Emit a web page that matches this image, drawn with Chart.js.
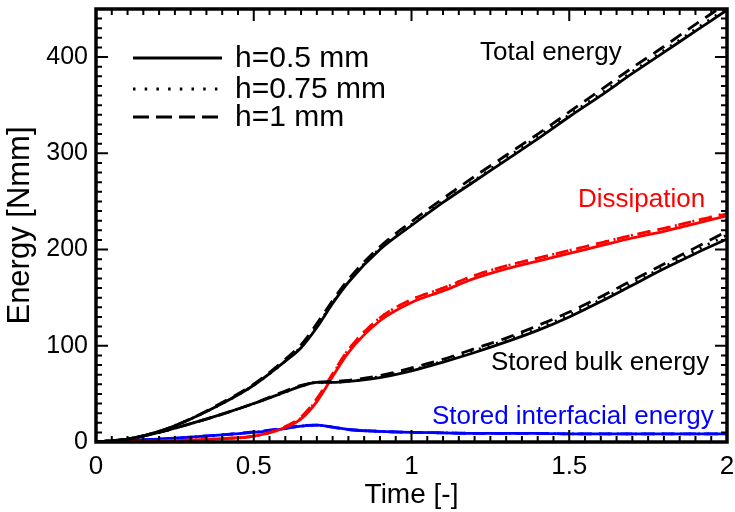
<!DOCTYPE html>
<html>
<head>
<meta charset="utf-8">
<script src="https://cdn.jsdelivr.net/npm/chart.js@4.4.1/dist/chart.umd.min.js"></script>
<style>
  html, body { margin: 0; padding: 0; background: #fff; }
  #wrap { width: 735px; height: 512px; }
</style>
</head>
<body>
<div id="wrap"><canvas id="chart" width="735" height="512"></canvas></div>
<script>
// time values (x axis)
const time = [0, 0.1, 0.2, 0.3, 0.4, 0.5, 0.6, 0.65, 0.7, 0.75, 0.8, 0.9, 1.0, 1.1, 1.2, 1.3, 1.4, 1.5, 1.6, 1.7, 1.8, 1.9, 2.0];

// total energy for h = 0.5 / 0.75 / 1 mm
const totalH05  = [0, 3, 11, 24, 40, 59, 84, 98, 119, 144, 166, 200, 225, 249, 271, 293, 315, 338, 360, 383, 405, 427, 449];
const totalH075 = [0, 3, 11, 24, 40, 59, 84, 99, 120, 145, 167, 201, 226, 250, 272, 295, 317, 340, 362, 385, 407, 429, 451];
const totalH1   = [0, 3, 11, 24, 41, 60, 86, 101, 123, 147, 169, 203, 229, 253, 276, 298, 320, 343, 366, 389, 411, 434, 456];

// dissipation
const dissH05  = [0, 0.5, 1, 2, 3.5, 6, 15, 24, 42, 68, 93, 126, 145, 157, 170, 180, 188, 196, 204, 212, 219, 227, 235];
const dissH075 = [0, 0.5, 1, 2, 3.5, 6, 15, 25, 44, 70, 96, 129, 148, 160, 173, 183, 191, 199, 207, 215, 222, 230, 238];
const dissH1   = [0, 0.5, 1, 2, 3.5, 6, 16, 26, 45, 71, 96, 129, 148, 160, 173, 183, 191, 199, 207, 215, 222, 230, 237];

// stored bulk energy
const bulkH05  = [0, 3, 10, 19, 29, 40, 52, 58, 62, 62, 63, 67, 74, 83, 93, 104, 116, 130, 146, 163, 180, 196, 211];
const bulkH075 = [0, 3, 10, 19, 29, 40, 52, 58, 62, 62, 63, 68, 75, 84, 95, 106, 118, 132, 148, 165, 182, 199, 215];
const bulkH1   = [0, 3, 10, 19, 29, 40, 53, 59, 62, 63, 64, 69, 77, 86, 97, 108, 121, 135, 151, 168, 185, 202, 219];

// stored interfacial energy
const interfH05  = [0, 1.5, 3, 5, 7.5, 10, 14, 16.5, 17.5, 15.5, 13, 11, 10, 9.5, 9, 9, 9, 8.5, 8.5, 8.5, 8.5, 8.5, 8.5];
const interfH075 = [0, 1.5, 3, 5, 7.5, 10, 14, 16.5, 17.5, 15.5, 13, 11, 10, 9.5, 9, 9, 9, 8.5, 8.5, 8.5, 8.5, 8.5, 8.5];
const interfH1   = [0, 1.5, 3, 5, 7.5, 10.5, 14.5, 17, 17.5, 15.5, 13, 11, 10, 9.5, 9, 9, 9, 8.5, 8.5, 8.5, 8.5, 8.5, 8.5];

const xTicks = [0, 0.5, 1, 1.5, 2];
const yTicks = [0, 100, 200, 300, 400];

const FONT = "'Liberation Sans', Arial, Helvetica, sans-serif";
const DOTTED = [2, 7];
const DASHED = [13, 8];

function series(values, color, dash) {
  return {
    data: time.map((t, i) => ({ x: t, y: values[i] })),
    borderColor: color,
    borderWidth: 2.8,
    borderDash: dash,
    pointRadius: 0,
    fill: false,
    cubicInterpolationMode: "monotone",
  };
}

const datasets = [
  series(totalH05, "#000", []),
  series(totalH075, "#000", DOTTED),
  series(totalH1, "#000", DASHED),
  series(bulkH05, "#000", []),
  series(bulkH075, "#000", DOTTED),
  series(bulkH1, "#000", DASHED),
  series(dissH05, "#ff0000", []),
  series(dissH075, "#ff0000", DOTTED),
  series(dissH1, "#ff0000", DASHED),
  series(interfH05, "#0000ff", []),
  series(interfH075, "#0000ff", DOTTED),
  series(interfH1, "#0000ff", DASHED),
];

// frame, inward ticks, legend and curve labels
const decorations = {
  id: "decorations",
  afterDraw(chart) {
    const { ctx, chartArea: a, scales } = chart;
    const xs = scales.x, ys = scales.y;
    ctx.save();
    ctx.strokeStyle = "#000";
    ctx.lineWidth = 2;
    ctx.setLineDash([]);
    ctx.beginPath();
    for (let i = 0; i <= 40; i++) {
      const v = i * 0.05;
      const px = xs.getPixelForValue(v);
      const len = i % 10 === 0 ? 12 : 6;
      ctx.moveTo(px, a.bottom); ctx.lineTo(px, a.bottom - len);
      ctx.moveTo(px, a.top); ctx.lineTo(px, a.top + len);
    }
    for (let v = 0; v <= 450; v += 10) {
      const py = ys.getPixelForValue(v);
      const len = v % 100 === 0 ? 12 : 6;
      ctx.moveTo(a.left, py); ctx.lineTo(a.left + len, py);
      ctx.moveTo(a.right, py); ctx.lineTo(a.right - len, py);
    }
    ctx.stroke();
    ctx.lineWidth = 3.5;
    ctx.strokeRect(a.left, a.top, a.right - a.left, a.bottom - a.top);

    // legend
    const legend = [
      { text: "h=0.5 mm", dash: [], y: 58 },
      { text: "h=0.75 mm", dash: [2.5, 9.2], y: 89 },
      { text: "h=1 mm", dash: [16, 7], y: 117 },
    ];
    ctx.font = "30px " + FONT;
    ctx.fillStyle = "#000";
    ctx.textBaseline = "middle";
    ctx.textAlign = "left";
    legend.forEach((l) => {
      ctx.lineWidth = 3;
      ctx.setLineDash(l.dash);
      ctx.beginPath();
      ctx.moveTo(133, l.y); ctx.lineTo(222, l.y);
      ctx.stroke();
      ctx.fillText(l.text, 235, l.y + 1);
    });
    ctx.setLineDash([]);

    // curve labels
    ctx.font = "26px " + FONT;
    ctx.textBaseline = "alphabetic";
    ctx.fillStyle = "#000";
    ctx.fillText("Total energy", 480, 60);
    ctx.fillText("Stored bulk energy", 491, 370);
    ctx.fillStyle = "#ff0000";
    ctx.fillText("Dissipation", 578, 207);
    ctx.fillStyle = "#0000ff";
    ctx.fillText("Stored interfacial energy", 432, 424);
    ctx.restore();
  },
};

new Chart(document.getElementById("chart"), {
  type: "line",
  data: { datasets },
  options: {
    responsive: false,
    animation: false,
    layout: { padding: { top: 9, right: 8, left: 0, bottom: 0 } },
    plugins: { legend: { display: false }, tooltip: { enabled: false } },
    scales: {
      x: {
        type: "linear",
        min: 0,
        max: 2,
        grid: { display: false, drawTicks: false },
        border: { display: false },
        afterBuildTicks: (s) => { s.ticks = xTicks.map((v) => ({ value: v })); },
        afterFit: (s) => { s.height = 70; s.paddingLeft = 0; s.paddingRight = 0; },
        ticks: {
          color: "#000", padding: 9, font: { family: FONT, size: 26 },
          callback: (v) => String(v),
        },
        title: { display: true, text: "Time [-]", color: "#000", padding: 0, font: { family: FONT, size: 28 } },
      },
      y: {
        min: 0,
        max: 450,
        grid: { display: false, drawTicks: false },
        border: { display: false },
        afterBuildTicks: (s) => { s.ticks = yTicks.map((v) => ({ value: v })); },
        afterFit: (s) => { s.width = 96; s.paddingTop = 0; s.paddingBottom = 0; },
        ticks: { color: "#000", padding: 8, font: { family: FONT, size: 25 } },
        title: { display: true, text: "Energy [Nmm]", color: "#000", padding: { top: 2, bottom: 0 }, font: { family: FONT, size: 31 } },
      },
    },
  },
  plugins: [decorations],
});
</script>
</body>
</html>
